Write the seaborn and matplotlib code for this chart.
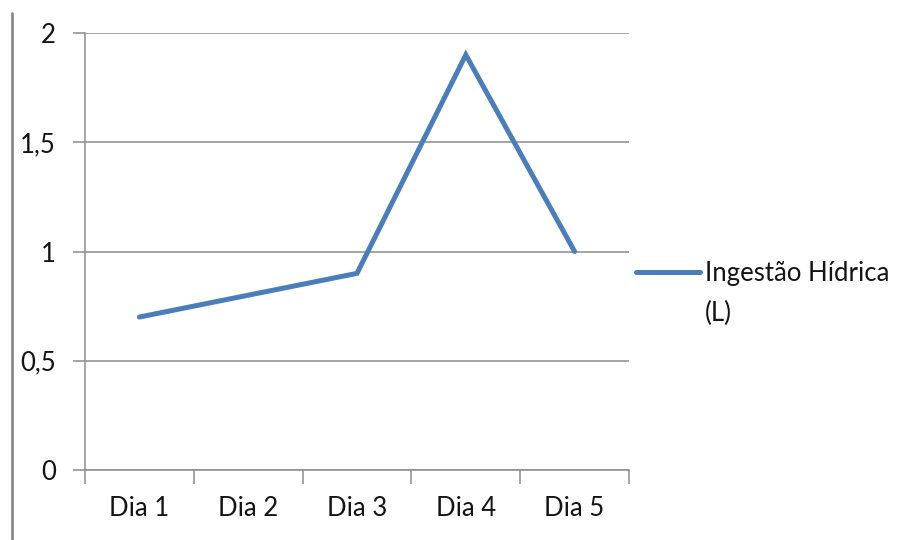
import matplotlib
matplotlib.use("Agg")
import matplotlib.pyplot as plt
from matplotlib.lines import Line2D
import seaborn as sns
import pandas as pd

# Daily water intake in litres
dias = ["Dia 1", "Dia 2", "Dia 3", "Dia 4", "Dia 5"]
ingestao = [0.7, 0.8, 0.9, 1.9, 1.0]
y_ticks = [0, 0.5, 1, 1.5, 2]
y_labels = ["0", "0,5", "1", "1,5", "2"]
serie = "Ingestão Hídrica"
unidade = "(L)"

sns.set_theme(style="white")
plt.rcParams["font.family"] = ["Lato", "DejaVu Sans"]

fs = 18.5
txt_col = "#141414"
grid_col = "#8c8c8c"
line_col = "#4a7ebb"

fig = plt.figure(figsize=(9.09, 5.40), dpi=100)
ax = fig.add_axes([85 / 909, 70 / 540, 544 / 909, 437 / 540])

df = pd.DataFrame({"dia": dias, "valor": ingestao})
sns.lineplot(data=df, x="dia", y="valor", ax=ax, color=line_col,
             linewidth=3.6, sort=False, label=serie,
             solid_capstyle="round", solid_joinstyle="miter")

ax.set_xlim(-0.5, len(dias) - 0.5)
ax.set_ylim(0, 2)
ax.set_yticks(y_ticks)
ax.set_yticklabels(y_labels)
ax.set_xticks(range(len(dias)))
ax.set_xticklabels(dias)
ax.set_xticks([i - 0.5 for i in range(len(dias) + 1)], minor=True)
ax.set_xlabel("")
ax.set_ylabel("")

ax.yaxis.grid(True, color=grid_col, linewidth=1.1)
ax.set_axisbelow(True)
for side in ("top", "right"):
    ax.spines[side].set_visible(False)
for side in ("left", "bottom"):
    ax.spines[side].set_color(grid_col)
    ax.spines[side].set_linewidth(1.1)

ax.tick_params(axis="y", which="major", length=9, width=1.1, color=grid_col,
               direction="out", pad=12, labelsize=fs, labelcolor=txt_col, left=True)
ax.tick_params(axis="x", which="major", length=0, pad=19, labelsize=fs,
               labelcolor=txt_col)
ax.tick_params(axis="x", which="minor", length=10, width=1.1, color=grid_col,
               direction="out", bottom=True)

leg = ax.legend(loc="center left", bbox_to_anchor=(636 / 909, 1 - 273 / 540),
                bbox_transform=fig.transFigure, frameon=False, fontsize=fs,
                handlelength=2.5, handletextpad=0.2, borderpad=0,
                borderaxespad=0)
for t in leg.get_texts():
    t.set_color(txt_col)
for h in leg.get_lines():
    h.set_solid_capstyle("round")

# Second line of the series name, set under the legend entry
fig.canvas.draw()
bb = leg.get_texts()[0].get_window_extent()
fig.text(bb.x0 / 909, (bb.y0 - 40) / 540 + (bb.height / 2) / 540, unidade,
         fontsize=fs, color=txt_col, va="center", ha="left")

# Vertical rule along the left edge
fig.add_artist(Line2D([12 / 909, 12 / 909], [0, 1 - 13 / 540],
                      transform=fig.transFigure, color="#8a8a8a", linewidth=2))

fig.savefig("out.png", dpi=100)
